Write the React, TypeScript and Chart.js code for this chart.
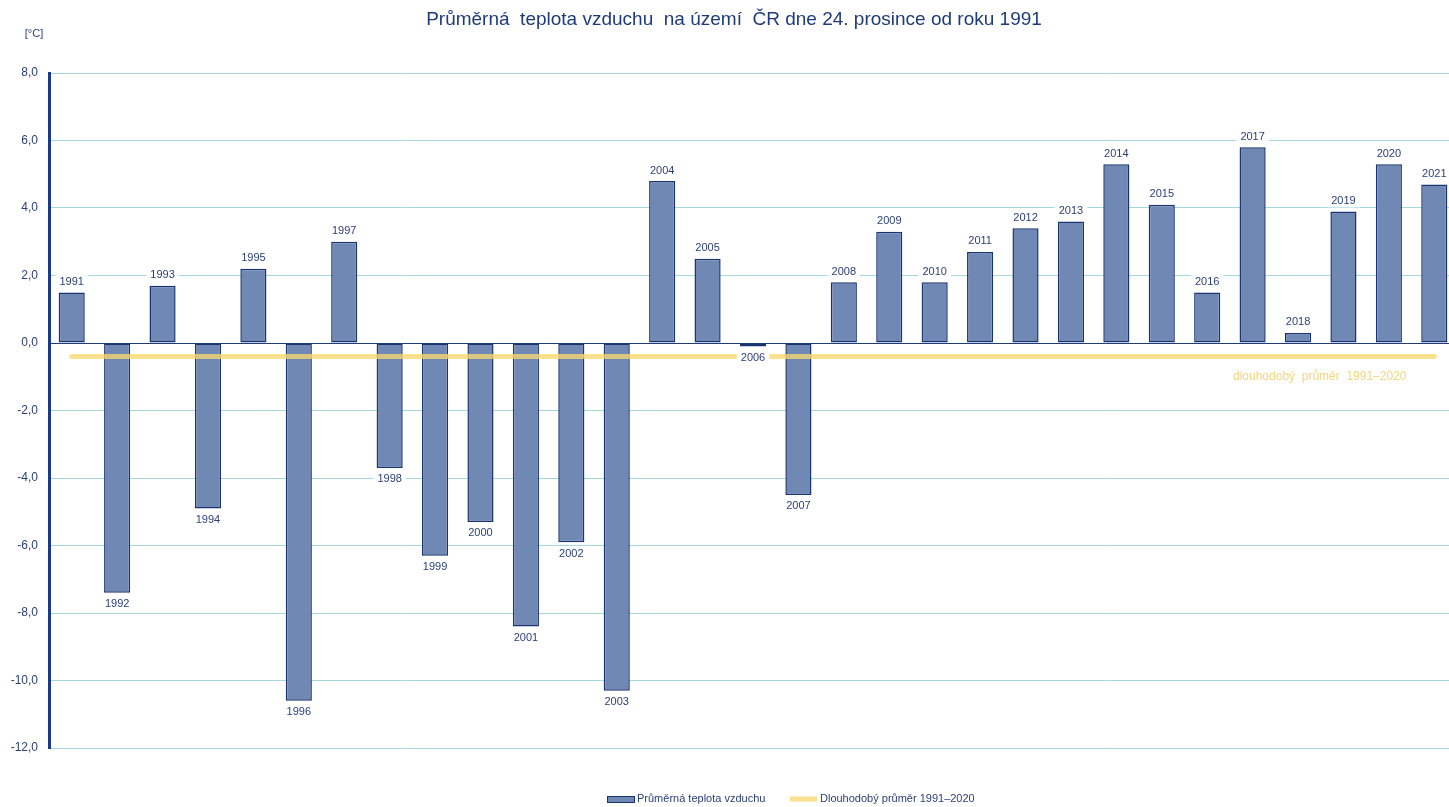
import React, { useEffect, useRef } from "react";
import { Chart, registerables } from "chart.js";

Chart.register(...registerables);

const years = [
  "1991", "1992", "1993", "1994", "1995", "1996", "1997", "1998", "1999", "2000",
  "2001", "2002", "2003", "2004", "2005", "2006", "2007", "2008", "2009", "2010",
  "2011", "2012", "2013", "2014", "2015", "2016", "2017", "2018", "2019", "2020", "2021",
];
const temps = [
  1.5, -7.4, 1.7, -4.9, 2.2, -10.6, 3.0, -3.7, -6.3, -5.3,
  -8.4, -5.9, -10.3, 4.8, 2.5, -0.1, -4.5, 1.8, 3.3, 1.8,
  2.7, 3.4, 3.6, 5.3, 4.1, 1.5, 5.8, 0.3, 3.9, 5.3, 4.7,
];
const longTermAvg = -0.4;
const avgPoints = [
  { x: "1991", y: longTermAvg },
  { x: "2021", y: longTermAvg },
];
const yTicks = [8, 6, 4, 2, 0, -2, -4, -6, -8, -10, -12];

const titleText = "Průměrná  teplota vzduchu  na území  ČR dne 24. prosince od roku 1991";
const unitText = "[°C]";
const barLabel = "Průměrná teplota vzduchu";
const lineLabel = "Dlouhodobý průměr 1991–2020";
const avgNote = "dlouhodobý  průměr  1991–2020";

const FONT = "'Liberation Sans', Arial, sans-serif";
const NAVY = "#1f3b7c";
const TEXT = "#2a3f78";
const BAR_FILL = "#7088b4";
const BAR_BORDER = "#1a3472";
const GRID = "#a3d8df";
const YELLOW = "rgba(250,215,110,0.78)";
const YELLOW_TEXT = "#f4d57c";

const decorPlugin = {
  id: "decor",
  afterDatasetsDraw(chart: any) {
    const ctx = chart.ctx as CanvasRenderingContext2D;
    const meta = chart.getDatasetMeta(0);
    ctx.save();
    ctx.font = `11px ${FONT}`;
    ctx.textAlign = "center";
    ctx.textBaseline = "middle";
    meta.data.forEach((bar: any, i: number) => {
      const v = temps[i];
      const y = v >= 0 ? bar.y - 11 : bar.y + 11;
      const label = years[i];
      const w = ctx.measureText(label).width;
      ctx.fillStyle = "#ffffff";
      ctx.fillRect(bar.x - w / 2 - 4, y - 7, w + 8, 14);
      ctx.fillStyle = TEXT;
      ctx.fillText(label, bar.x, y + 0.5);
    });
    const yScale = chart.scales.y;
    ctx.font = `12px ${FONT}`;
    ctx.fillStyle = YELLOW_TEXT;
    ctx.textAlign = "left";
    ctx.fillText(avgNote, 1233, yScale.getPixelForValue(longTermAvg) + 20);
    ctx.restore();
  },
  afterDraw(chart: any) {
    const ctx = chart.ctx as CanvasRenderingContext2D;
    ctx.save();
    ctx.font = `19px ${FONT}`;
    ctx.fillStyle = NAVY;
    ctx.textAlign = "center";
    ctx.textBaseline = "middle";
    ctx.fillText(titleText, 734, 20);
    ctx.font = `11px ${FONT}`;
    ctx.fillStyle = TEXT;
    ctx.fillText(unitText, 34, 34);
    const ly = 799;
    ctx.fillStyle = BAR_FILL;
    ctx.fillRect(607.5, 796.5, 27, 6);
    ctx.strokeStyle = BAR_BORDER;
    ctx.lineWidth = 1;
    ctx.strokeRect(607.5, 796.5, 27, 6);
    ctx.fillStyle = TEXT;
    ctx.textAlign = "left";
    ctx.font = `11px ${FONT}`;
    ctx.fillText(chart.data.datasets[0].label, 637, ly);
    ctx.strokeStyle = YELLOW;
    ctx.lineWidth = 5;
    ctx.beginPath();
    ctx.moveTo(790, ly);
    ctx.lineTo(817, ly);
    ctx.stroke();
    ctx.fillStyle = TEXT;
    ctx.fillText(chart.data.datasets[1].label, 820, ly);
    ctx.restore();
  },
};

export default function App() {
  const ref = useRef<HTMLCanvasElement | null>(null);
  useEffect(() => {
    if (!ref.current) return;
    const chart = new Chart(ref.current, {
      data: {
        labels: years,
        datasets: [
          {
            type: "bar",
            label: barLabel,
            data: temps,
            backgroundColor: BAR_FILL,
            borderColor: BAR_BORDER,
            borderWidth: 1.5,
            borderSkipped: false,
            barPercentage: 0.575,
            categoryPercentage: 1,
            order: 2,
          },
          {
            type: "line",
            label: lineLabel,
            data: avgPoints as any,
            borderColor: YELLOW,
            backgroundColor: YELLOW,
            borderWidth: 5,
            borderCapStyle: "round",
            pointRadius: 0,
            fill: false,
            order: 1,
          },
        ],
      },
      options: {
        animation: false,
        responsive: false,
        devicePixelRatio: 1,
        layout: { padding: { top: 73, bottom: 59, left: 0, right: 0 } },
        plugins: {
          legend: { display: false },
          title: { display: false },
          tooltip: { enabled: false },
        },
        scales: {
          x: {
            type: "category",
            display: false,
            offset: true,
            grid: { display: false },
          },
          y: {
            min: -12,
            max: 8,
            afterFit: (s: any) => {
              s.width = 49;
            },
            afterBuildTicks: (s: any) => {
              s.ticks = yTicks.map((v) => ({ value: v }));
            },
            ticks: {
              padding: 11,
              color: TEXT,
              font: { family: FONT, size: 12 },
              callback: (v: any) => Number(v).toFixed(1).replace(".", ","),
            },
            grid: {
              drawTicks: false,
              color: (c: any) => (c.tick && c.tick.value === 0 ? NAVY : GRID),
              lineWidth: 1,
            },
            border: { display: true, color: "#1b3a8c", width: 3 },
          },
        },
      } as any,
      plugins: [decorPlugin],
    });
    return () => chart.destroy();
  }, []);

  return (
    <div
      style={{
        position: "fixed",
        left: 0,
        top: 0,
        width: 1449,
        height: 807,
        overflow: "hidden",
        background: "#ffffff",
      }}
    >
      <canvas ref={ref} width={1457} height={807} style={{ display: "block" }} />
    </div>
  );
}
